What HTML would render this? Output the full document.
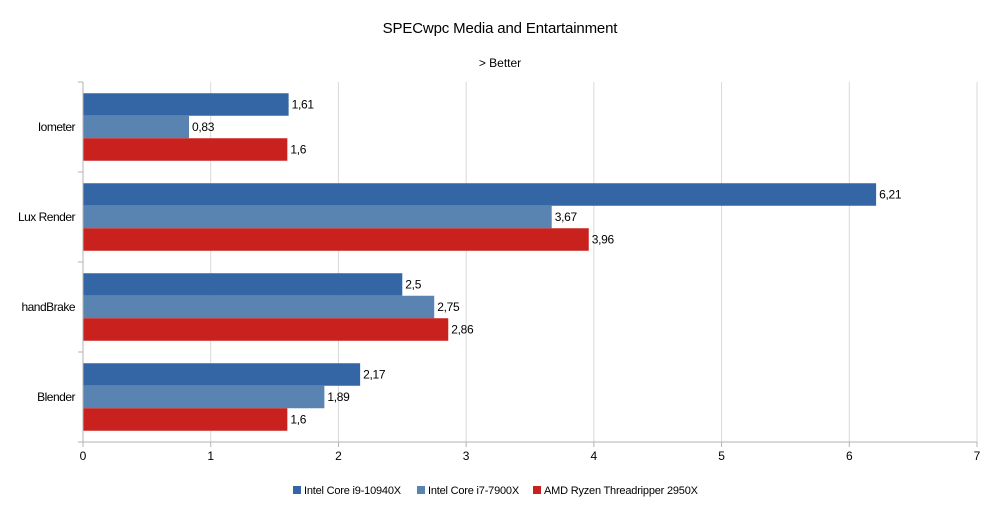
<!DOCTYPE html>
<html><head><meta charset="utf-8"><style>
body{margin:0;background:#fff;font-family:"Liberation Sans",sans-serif}
svg text{font-family:"Liberation Sans",sans-serif}
</style></head><body>
<svg id="c" width="1000" height="500" xmlns="http://www.w3.org/2000/svg">
<rect width="1000" height="500" fill="#fff"/>
<text x="500" y="33" text-anchor="middle" font-size="15" letter-spacing="-0.15">SPECwpc Media and Entartainment</text>
<text x="500" y="67" text-anchor="middle" font-size="12">&gt; Better</text>
<g id="grid"></g><g id="bars"></g><g id="axes"></g><g id="legend"></g>
</svg>
<script>
const categories=["Iometer","Lux Render","handBrake","Blender"];
const seriesNames=["Intel Core i9-10940X","Intel Core i7-7900X","AMD Ryzen Threadripper 2950X"];
const i9Values=[1.61,6.21,2.5,2.17];
const i7Values=[0.83,3.67,2.75,1.89];
const amdValues=[1.6,3.96,2.86,1.6];
const xTicks=[0,1,2,3,4,5,6,7];
const colors=["#3465a4","#5983b0","#c9211e"];
const NS="http://www.w3.org/2000/svg";
const L=83,R=977,T=82,B=442;
const x=v=>L+(v-0)/(7-0)*(R-L);
const band=(B-T)/categories.length;
const bh=22.5;
function mk(tag,attrs,parent,text){const e=document.createElementNS(NS,tag);for(const k in attrs)e.setAttribute(k,attrs[k]);if(text!==undefined)e.textContent=text;document.getElementById(parent).appendChild(e);return e;}
xTicks.forEach(t=>{
 if(t>0){const g=mk('line',{x1:x(t),x2:x(t),y1:T,y2:B,stroke:'#d9d9d9'},'grid');
 }
 const tk=mk('line',{x1:x(t),x2:x(t),y1:B,y2:B+5,stroke:'#b3b3b3'},'axes');
 
 const lb=mk('text',{x:x(t),y:B+18,'text-anchor':'middle','font-size':12},'axes',String(t));
 
});
const ax=mk('line',{x1:L,x2:L,y1:T,y2:B,stroke:'#b3b3b3'},'axes');

const ax2=mk('line',{x1:L,x2:R,y1:B,y2:B,stroke:'#b3b3b3'},'axes');

for(let i=0;i<=categories.length;i++){const t=mk('line',{x1:L-5,x2:L,y1:T+i*band,y2:T+i*band,stroke:'#b3b3b3'},'axes');
 }
const all=[i9Values,i7Values,amdValues];
categories.forEach((c,i)=>{
 const y0=T+i*band+(band-3*bh)/2;
 const lb=mk('text',{x:L-8,y:T+i*band+band/2+4,'text-anchor':'end','font-size':12,'letter-spacing':-0.5},'axes',c);
 
 all.forEach((s,j)=>{
  const r=mk('rect',{x:L,y:y0+j*bh,width:x(s[i])-L,height:bh,fill:colors[j]},'bars');
  
  const v=mk('text',{x:x(s[i])+3,y:y0+j*bh+bh/2+4,'font-size':12,'letter-spacing':-0.3},'bars',String(s[i]).replace('.',','));
  
 });
});
let lx=[293,417,533];
seriesNames.forEach((n,j)=>{
 const s=mk('rect',{x:lx[j],y:486,width:8,height:8,fill:colors[j]},'legend');
 
 const t=mk('text',{x:lx[j]+11,y:494,'font-size':11,'letter-spacing':-0.2},'legend',n);
 
});
</script>
</body></html>
